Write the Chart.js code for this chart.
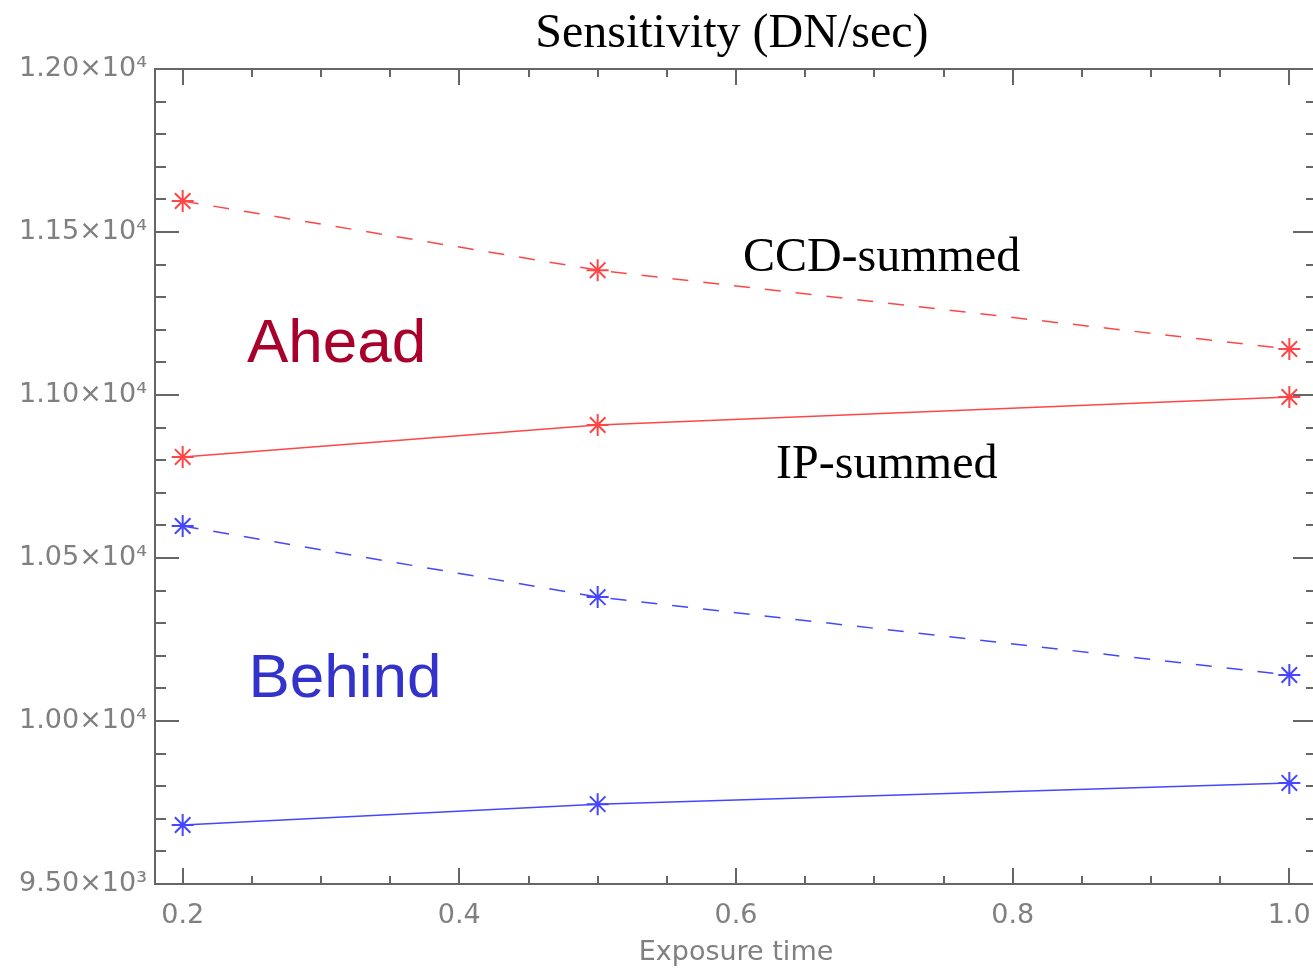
<!DOCTYPE html>
<html>
<head>
<meta charset="utf-8">
<script src="https://cdn.jsdelivr.net/npm/chart.js@4.4.1/dist/chart.umd.min.js"></script>
<style>
  html, body { margin: 0; padding: 0; background: #fff; overflow: hidden; }
  #wrap { position: absolute; left: 0; top: 0; width: 1330px; height: 971px; }
</style>
</head>
<body>
<div id="wrap"><canvas id="sens" width="1330" height="971"></canvas></div>
<script>
// exposure times (x) and sensitivities (DN/sec)
const exposure = [0.2, 0.5, 1.0];
const aheadCCD = [11595, 11383, 11141];
const aheadIP = [10810, 10908, 10994];
const behindCCD = [10598, 10380, 10141];
const behindIP = [9681, 9745, 9810];

const xTicks = [0.2, 0.4, 0.6, 0.8, 1.0];
const yTicks = [9500, 10000, 10500, 11000, 11500, 12000];

const red = 'rgb(255, 70, 70)';
const blue = 'rgb(70, 70, 255)';
const axisGray = '#666';

function pts(ys) {
  return exposure.map((x, i) => ({ x: x, y: ys[i] }));
}

function yLabel(v) {
  const exp = Math.floor(Math.log10(v));
  const sup = { 3: '\u00B3', 4: '\u2074' };
  return (v / Math.pow(10, exp)).toFixed(2) + '\u00D710' + sup[exp];
}

// inward ticks on all four sides + top/right frame, like IDL plots
const frameTicks = {
  id: 'frameTicks',
  afterDraw(chart) {
    const ctx = chart.ctx;
    const a = chart.chartArea;
    const xs = chart.scales.x, ys = chart.scales.y;
    ctx.save();
    ctx.strokeStyle = axisGray;
    ctx.lineWidth = 2;
    ctx.strokeRect(a.left, a.top, a.right - a.left, a.bottom - a.top);
    ctx.beginPath();
    for (let i = 0; i <= 20; i++) {
      const v = 0.15 + i * 0.05;
      if (v < xs.min || v > xs.max) continue;
      const major = Math.abs(v * 5 - Math.round(v * 5)) < 1e-6;
      const len = major ? 16 : 8;
      const px = Math.round(xs.getPixelForValue(v));
      ctx.moveTo(px, a.bottom); ctx.lineTo(px, a.bottom - len);
      ctx.moveTo(px, a.top); ctx.lineTo(px, a.top + len);
    }
    for (let v = 9500; v <= 12000; v += 100) {
      const major = v % 500 === 0;
      const len = major ? 24 : 11;
      const py = Math.round(ys.getPixelForValue(v));
      ctx.moveTo(a.left, py); ctx.lineTo(a.left + len, py);
      ctx.moveTo(a.right, py); ctx.lineTo(a.right - len, py);
    }
    ctx.stroke();

    // title and annotations
    ctx.fillStyle = '#000';
    ctx.font = '48px "Liberation Serif", "Times New Roman", serif';
    ctx.textAlign = 'center';
    ctx.textBaseline = 'alphabetic';
    ctx.fillText('Sensitivity (DN/sec)', xs.getPixelForValue(0.597), 47);
    ctx.textAlign = 'left';
    ctx.fillText('CCD-summed', xs.getPixelForValue(0.605), ys.getPixelForValue(11380));
    ctx.fillText('IP-summed', xs.getPixelForValue(0.629), ys.getPixelForValue(10745));
    ctx.font = '62px "Liberation Sans", Arial, sans-serif';
    ctx.fillStyle = 'rgb(168, 0, 42)';
    ctx.fillText('Ahead', xs.getPixelForValue(0.2465), ys.getPixelForValue(11102));
    ctx.fillStyle = 'rgb(51, 51, 204)';
    ctx.fillText('Behind', xs.getPixelForValue(0.2475), ys.getPixelForValue(10074));
    ctx.restore();
  }
};

function series(label, ys, color, dashed) {
  return {
    label: label,
    data: pts(ys),
    borderColor: color,
    backgroundColor: color,
    borderWidth: 1.5,
    borderDash: dashed ? [16, 15] : [],
    pointStyle: 'star',
    pointRadius: 11,
    pointBorderWidth: 2,
    pointBorderColor: color,
    tension: 0
  };
}

const tickFont = { family: '"DejaVu Sans", sans-serif', size: 27 };

new Chart(document.getElementById('sens'), {
  type: 'line',
  data: {
    datasets: [
      series('Ahead CCD-summed', aheadCCD, red, true),
      series('Ahead IP-summed', aheadIP, red, false),
      series('Behind CCD-summed', behindCCD, blue, true),
      series('Behind IP-summed', behindIP, blue, false)
    ]
  },
  options: {
    responsive: false,
    animation: false,
    devicePixelRatio: 1,
    layout: { padding: { top: 69, right: 13, left: 0, bottom: 0 } },
    plugins: {
      legend: { display: false },
      tooltip: { enabled: false }
    },
    scales: {
      x: {
        type: 'linear',
        min: 0.18,
        max: 1.02,
        afterFit(scale) { scale.height = 87; },
        afterBuildTicks(scale) { scale.ticks = xTicks.map(v => ({ value: v })); },
        grid: { display: false, drawTicks: false },
        border: { display: false },
        ticks: {
          color: '#808080',
          font: tickFont,
          padding: 16,
          maxRotation: 0,
          callback: v => v.toFixed(1)
        },
        title: {
          display: true,
          text: 'Exposure time',
          color: '#808080',
          font: tickFont,
          padding: { top: 0, bottom: 2 }
        }
      },
      y: {
        min: 9500,
        max: 12000,
        afterFit(scale) { scale.width = 155; },
        afterBuildTicks(scale) { scale.ticks = yTicks.map(v => ({ value: v })); },
        grid: { display: false, drawTicks: false },
        border: { display: false },
        ticks: {
          color: '#808080',
          font: tickFont,
          padding: 8,
          callback: v => yLabel(v)
        }
      }
    }
  },
  plugins: [frameTicks]
});
</script>
</body>
</html>
